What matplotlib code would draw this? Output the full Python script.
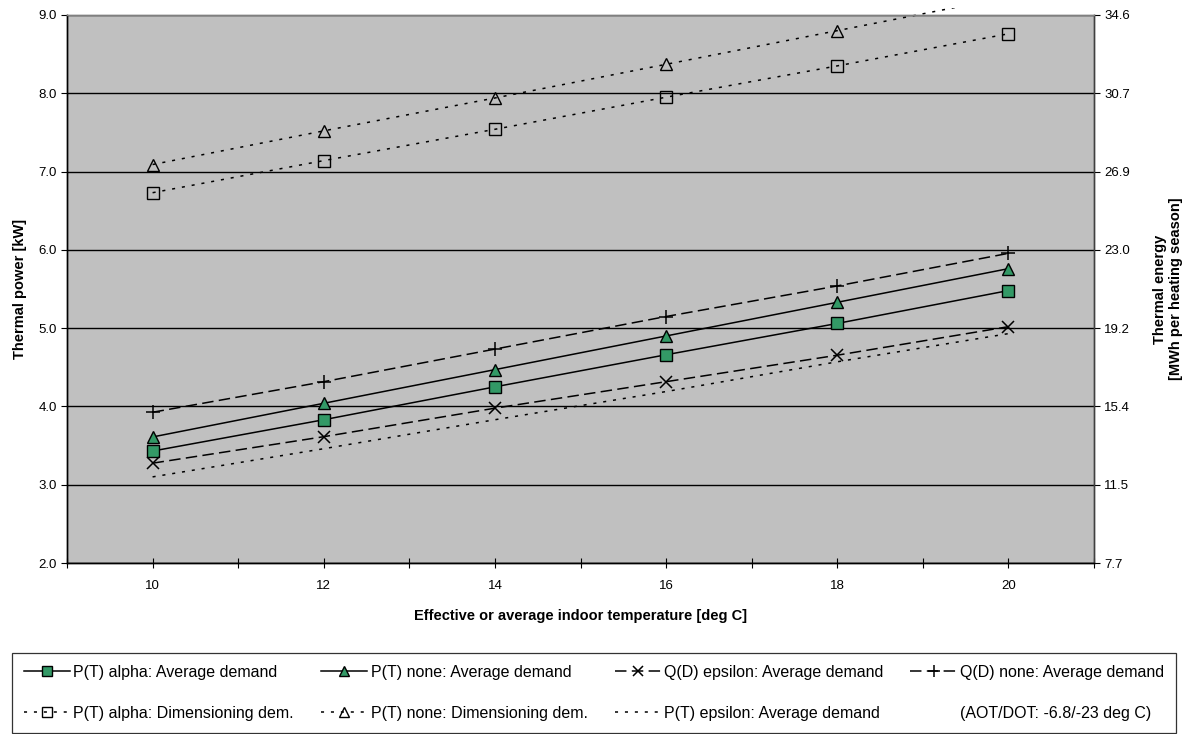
import matplotlib.pyplot as plt
from matplotlib.lines import Line2D
from matplotlib.patches import Rectangle

plt.rcParams.update({
    "font.family": ["Liberation Sans", "DejaVu Sans"],
    "font.size": 9.5,
    "axes.linewidth": 1.0,
})

# indoor temperature [deg C]
TEMP = [10, 12, 14, 16, 18, 20]
# thermal power [kW] (left axis)
P_ALPHA_AVG = [3.43, 3.83, 4.25, 4.66, 5.06, 5.48]
P_NONE_AVG = [3.61, 4.04, 4.47, 4.90, 5.33, 5.76]
P_EPS_AVG = [3.10, 3.46, 3.83, 4.19, 4.57, 4.93]
P_ALPHA_DIM = [6.73, 7.14, 7.54, 7.95, 8.35, 8.76]
P_NONE_DIM = [7.09, 7.52, 7.94, 8.37, 8.80, 9.23]
# thermal energy [MWh per heating season] (right axis)
Q_EPS_AVG = [12.6, 13.9, 15.3, 16.6, 17.9, 19.3]
Q_NONE_AVG = [15.1, 16.6, 18.2, 19.8, 21.3, 22.9]

LEFT_TICKS = [2, 3, 4, 5, 6, 7, 8, 9]
RIGHT_LABELS = ["7.7", "11.5", "15.4", "19.2", "23.0", "26.9", "30.7", "34.6"]
X_TICKS = list(range(9, 22))

GREEN = "#339966"
DOT = (0, (2.0, 4.5))
DASH = (0, (7.5, 3.5))

fig = plt.figure(figsize=(11.88, 7.34), dpi=100)
ax = fig.add_axes([67 / 1188, 1 - 563 / 734, (1094 - 67) / 1188, (563 - 15) / 734])
ax.set_facecolor("#c0c0c0")
ax2 = ax.twinx()

ln_pa, = ax.plot(TEMP, P_ALPHA_AVG, color="black", lw=1.1, marker="s", ms=8.5,
                 mfc=GREEN, mec="black", mew=1.0, label="P(T) alpha: Average demand")
ln_pn, = ax.plot(TEMP, P_NONE_AVG, color="black", lw=1.1, marker="^", ms=9,
                 mfc=GREEN, mec="black", mew=1.0, label="P(T) none: Average demand")
ln_pe, = ax.plot(TEMP, P_EPS_AVG, color="black", lw=1.1, ls=DOT,
                 label="P(T) epsilon: Average demand")
ln_pad, = ax.plot(TEMP, P_ALPHA_DIM, color="black", lw=1.1, ls=DOT, marker="s", ms=8.5,
                  mfc="none", mec="black", mew=1.0, label="P(T) alpha: Dimensioning dem.")
ln_pnd, = ax.plot(TEMP, P_NONE_DIM, color="black", lw=1.1, ls=DOT, marker="^", ms=9,
                  mfc="none", mec="black", mew=1.0, label="P(T) none: Dimensioning dem.")
# Excel lets this line run a little past the top of the plot area
ln_pnd.set_clip_path(Rectangle((0, 0), 1, 1.012, transform=ax.transAxes))
ln_qe, = ax2.plot(TEMP, Q_EPS_AVG, color="black", lw=1.1, ls=DASH, marker="x", ms=9,
                  mew=1.1, label="Q(D) epsilon: Average demand")
ln_qn, = ax2.plot(TEMP, Q_NONE_AVG, color="black", lw=1.1, ls=DASH, marker="+", ms=10,
                  mew=1.1, label="Q(D) none: Average demand")
note = Line2D([], [], ls="none", label="(AOT/DOT: -6.8/-23 deg C)")

ax.set_xlim(9, 21)
ax.set_ylim(2, 9)
ax2.set_ylim(7.7, 34.6)

ax.set_xticks(X_TICKS)
ax.set_xticklabels([str(t) if t % 2 == 0 and 10 <= t <= 20 else "" for t in X_TICKS])
ax.set_yticks(LEFT_TICKS)
ax.set_yticklabels([f"{v:.1f}" for v in LEFT_TICKS])
ax.yaxis.grid(True, color="black", lw=1.0)
ax.set_axisbelow(True)
ax.tick_params(axis="x", direction="inout", length=7, pad=9)
ax.tick_params(axis="y", direction="out", length=4)

step = (34.6 - 7.7) / (len(RIGHT_LABELS) - 1)
ax2.set_yticks([7.7 + i * step for i in range(len(RIGHT_LABELS))])
ax2.set_yticklabels(RIGHT_LABELS)
ax2.tick_params(axis="y", direction="out", length=4)

for a in (ax, ax2):
    a.spines["top"].set_color("#808080")
    a.spines["right"].set_color("#404040")

ax.set_xlabel("Effective or average indoor temperature [deg C]",
              fontweight="bold", fontsize=10.5, labelpad=12)
ax.set_ylabel("Thermal power [kW]", fontweight="bold", fontsize=10.5, labelpad=8)
ax2.set_ylabel("Thermal energy\n[MWh per heating season]", fontweight="bold",
               fontsize=10.5, labelpad=16)

handles = [ln_pa, ln_pad, ln_pn, ln_pnd, ln_qe, ln_pe, ln_qn, note]
leg = fig.legend(handles=handles, labels=[h.get_label() for h in handles], ncols=4,
                 loc="lower left", bbox_to_anchor=(12 / 1188, 1 / 734, 1164 / 1188, 84 / 734),
                 mode="expand", fontsize=11.5, frameon=True, fancybox=False,
                 edgecolor="black", borderaxespad=0, handlelength=2.9, handletextpad=0.2,
                 columnspacing=0.8, labelspacing=1.65, numpoints=1, borderpad=0.75,
                 markerscale=0.85)
leg.get_frame().set_linewidth(0.9)

fig.savefig("out.png", dpi=100, facecolor="white")
